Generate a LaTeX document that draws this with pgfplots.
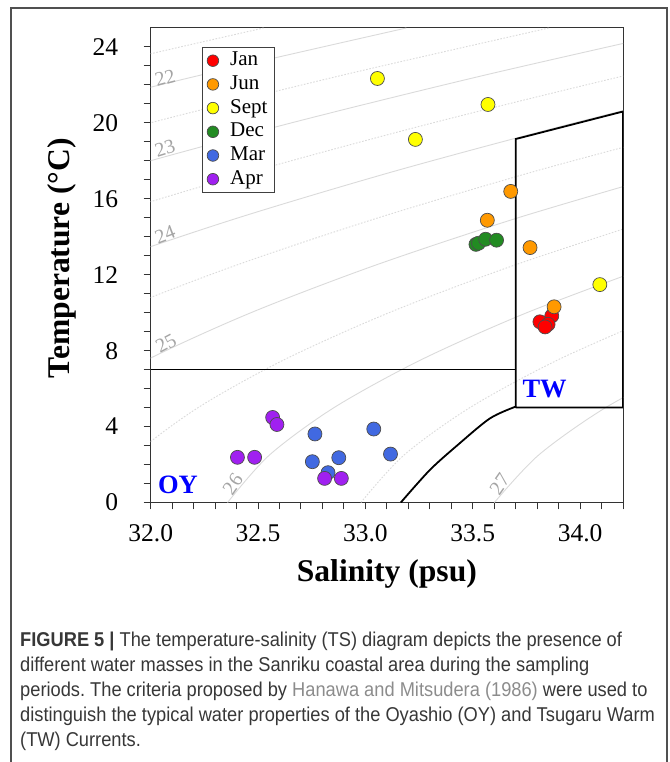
\documentclass[border=0pt]{standalone}
\usepackage{fontspec}
\setmainfont{Liberation Serif}
\newfontfamily\capfont{Liberation Sans}
\usepackage{pgfplots}
\pgfplotsset{compat=1.18}

\definecolor{cJan}{RGB}{255,0,0}
\definecolor{cJun}{RGB}{255,153,0}
\definecolor{cSep}{RGB}{255,255,0}
\definecolor{cDec}{RGB}{34,139,34}
\definecolor{cMar}{RGB}{65,105,225}
\definecolor{cApr}{RGB}{160,32,240}
\definecolor{isogray}{RGB}{218,218,218}
\definecolor{labgray}{RGB}{165,165,165}
\definecolor{captext}{RGB}{55,55,55}
\definecolor{capgray}{RGB}{140,140,140}
\definecolor{framegray}{RGB}{80,80,80}

\pgfplotsset{
  iso/.style={isogray, line width=0.9bp, smooth, forget plot},
  isod/.style={isogray, line width=0.9bp, smooth, dash pattern=on 1.6bp off 1.6bp, forget plot},
  mass/.style={black, line width=1.8bp, forget plot},
  pts/.style={only marks, mark=*, mark size=7bp, draw=black!70, line width=0.7bp},
}
\tikzset{isolab/.style={text=labgray, inner sep=0pt, font=\fontsize{20bp}{20bp}\selectfont}}

\begin{document}
\begin{tikzpicture}[x=1bp,y=1bp]
\useasboundingbox (0,0) rectangle (670,762);
\draw[framegray, line width=1.3bp] (11,-10) -- (11,754) -- (667,754) -- (667,-10);

\begin{axis}[
  at={(150.7bp,259.5bp)}, anchor=south west,
  scale only axis, width=472.3bp, height=474.5bp,
  xmin=32, xmax=34.2, ymin=0, ymax=25,
  xtick={32,32.5,33,33.5,34},
  xticklabels={32.0,32.5,33.0,33.5,34.0},
  minor xtick={32.1,32.2,32.3,32.4,32.6,32.7,32.8,32.9,33.1,33.2,33.3,33.4,33.6,33.7,33.8,33.9,34.1,34.2},
  ytick={0,4,8,12,16,20,24},
  yticklabels={0,4,8,12,16,20,24},
  minor ytick={1,2,3,5,6,7,9,10,11,13,14,15,17,18,19,21,22,23},
  xtick pos=bottom, ytick pos=left,
  tick align=outside,
  major tick length=7bp, minor tick length=7bp,
  tick style={black!80, line width=1bp},
  axis line style={black!80, line width=1bp},
  ticklabel style={font=\fontsize{25.5bp}{30bp}\selectfont},
  xticklabel style={yshift=-12bp},
  yticklabel style={xshift=-22bp},
  xlabel={\bfseries Salinity (psu)},
  ylabel={\bfseries Temperature (\textdegree C)},
  label style={font=\fontsize{31.6bp}{36bp}\selectfont},
  xlabel style={at={(axis description cs:0.5,-0.1507)}, anchor=center},
  ylabel style={at={(axis description cs:-0.1884,0.515)}, anchor=center},
  legend style={at={(0.108,0.9593)}, anchor=north west, draw=black!75, line width=0.8bp,
    font=\fontsize{21bp}{24bp}\selectfont, inner xsep=5bp, inner ysep=2bp,
    row sep=1.7bp, column sep=10bp,
    nodes={inner sep=1.5bp, text height=14.5bp, text depth=4.5bp}},
  legend cell align=left,
  legend image code/.code={\draw[#1, mark size=5.8bp] plot coordinates {(0bp,0bp)};},
]

% isopycnals (sigma-t), solid at whole values, dotted at half values
\addplot[isod] coordinates {(30.679,20) (31.565,22.5) (32.526,25)};
\addplot[iso]  coordinates {(30.529,17.5) (31.338,20) (32.226,22.5) (33.191,25)};
\addplot[isod] coordinates {(31.185,17.5) (31.997,20) (32.888,22.5) (33.855,25)};
\addplot[iso]  coordinates {(31.106,15) (31.840,17.5) (32.655,20) (33.550,22.5) (34.520,25)};
\addplot[isod] coordinates {(31.104,12.5) (31.757,15) (32.495,17.5) (33.314,20) (34.212,22.5) (35.18,25)};
\addplot[iso]  coordinates {(31.181,10) (31.751,12.5) (32.408,15) (33.150,17.5) (33.973,20) (34.87,22.5)};
\addplot[isod] coordinates {(31.342,7.5) (31.824,10) (32.398,12.5) (33.060,15) (33.805,17.5) (34.631,20)};
\addplot[iso]  coordinates {(31.115,0) (31.298,2.5) (31.588,5) (31.980,7.5) (32.467,10) (33.046,12.5) (33.711,15) (34.461,17.5)};
\addplot[isod] coordinates {(31.736,0) (31.925,2.5) (32.221,5) (32.618,7.5) (33.110,10) (33.693,12.5) (34.363,15)};
\addplot[iso]  coordinates {(32.358,0) (32.553,2.5) (32.854,5) (33.256,7.5) (33.752,10) (34.340,12.5)};
\addplot[isod] coordinates {(32.979,0) (33.180,2.5) (33.487,5) (33.894,7.5) (34.395,10)};
\addplot[iso]  coordinates {(33.601,0) (33.807,2.5) (34.119,5) (34.532,7.5)};

\node[isolab, rotate=15] at (axis cs:32.067,22.37) {22};
\node[isolab, rotate=17] at (axis cs:32.067,18.64) {23};
\node[isolab, rotate=21] at (axis cs:32.067,14.13) {24};
\node[isolab, rotate=28] at (axis cs:32.071,8.39) {25};
\node[isolab, rotate=55] at (axis cs:32.382,0.97) {26};
\node[isolab, rotate=55] at (axis cs:33.625,0.97) {27};

% water mass criteria
\addplot[black, line width=1.5bp, forget plot] coordinates {(32,7) (33.7,7)};
\addplot[mass] coordinates {(33.7,5) (33.7,19.15) (34.2,20.6) (34.2,5) (33.7,5)};
\addplot[mass, smooth] coordinates {(33.165,0) (33.30,1.71) (33.43,3.03) (33.58,4.43) (33.7,5.05)};

% observations
\addplot[pts, fill=cJan] coordinates {(33.868,9.83) (33.813,9.52) (33.851,9.39) (33.837,9.25)};
\addlegendentry{Jan}
\addplot[pts, fill=cJun] coordinates {(33.677,16.39) (33.568,14.87) (33.767,13.43) (33.879,10.31)};
\addlegendentry{Jun}
\addplot[pts, fill=cSep] coordinates {(33.056,22.34) (33.571,20.97) (33.233,19.13) (34.092,11.48)};
\addlegendentry{Sept}
\addplot[pts, fill=cDec] coordinates {(33.515,13.60) (33.527,13.66) (33.560,13.87) (33.611,13.82)};
\addlegendentry{Dec}
\addplot[pts, fill=cMar] coordinates {(32.765,3.61) (32.753,2.15) (32.876,2.36) (32.826,1.57) (33.039,3.87) (33.117,2.55)};
\addlegendentry{Mar}
\addplot[pts, fill=cApr] coordinates {(32.568,4.48) (32.588,4.11) (32.404,2.38) (32.484,2.38) (32.810,1.27) (32.888,1.27)};
\addlegendentry{Apr}

\node[text=blue, font=\bfseries\fontsize{26.5bp}{28bp}\selectfont] at (axis cs:32.127,0.92) {OY};
\node[text=blue, font=\bfseries\fontsize{26.5bp}{28bp}\selectfont] at (axis cs:33.835,5.97) {TW};
\end{axis}

\node[anchor=base west, inner sep=0pt, text=captext] at (20,115)
{\capfont\fontsize{20bp}{25bp}\selectfont\frenchspacing
 \scalebox{0.913}[1]{\begin{tabular}[t]{@{}l@{}}
 \textbf{FIGURE 5 |} The temperature-salinity (TS) diagram depicts the presence of\\
 different water masses in the Sanriku coastal area during the sampling\\
 periods. The criteria proposed by \textcolor{capgray}{Hanawa and Mitsudera (1986)} were used to\\
 distinguish the typical water properties of the Oyashio (OY) and Tsugaru Warm\\
 (TW) Currents.
 \end{tabular}}};
\end{tikzpicture}
\end{document}
